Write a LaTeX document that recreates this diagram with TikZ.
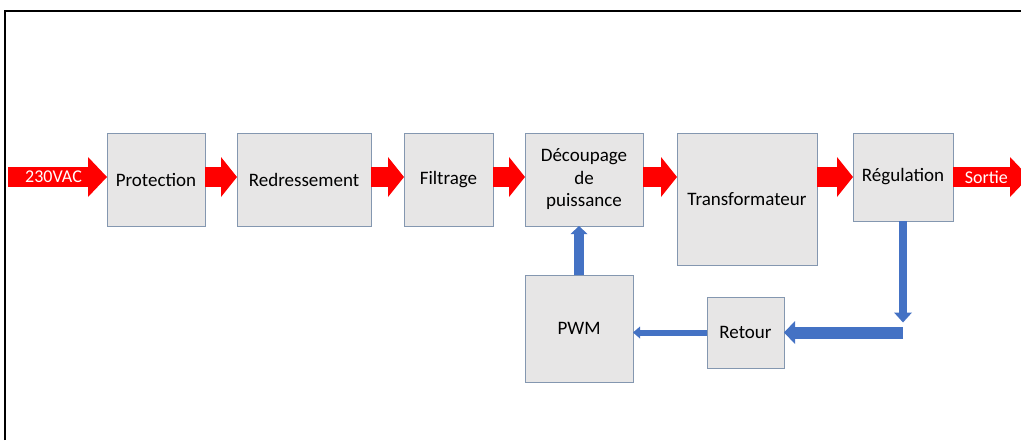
\documentclass[tikz,border=0pt]{standalone}
\usepackage{fontspec}
\setmainfont{Carlito}
\usetikzlibrary{positioning, arrows.meta, calc}
\definecolor{boxfill}{HTML}{E7E6E6}
\definecolor{boxline}{HTML}{8497B0}
\definecolor{fbblue}{HTML}{4472C4}
\tikzset{
    block/.style={ % Grey blocks of the power chain
        draw=boxline,
        fill=boxfill,
        line width=0.8pt,
        inner sep=0pt,
        outer sep=0pt,
        align=center,
        font=\fontsize{19}{22.5}\selectfont
    },
    redarr/.style={ % Thick red power arrows
        draw=red,
        line width=20pt,
        -{Triangle[length=#1,width=40pt,line width=0pt]}
    },
    redarr/.default=16pt,
    bluearr/.style args={#1/#2/#3}{ % Feedback arrows: shaft/head width/head length
        draw=fbblue,
        line width=#1,
        -{Triangle[length=#3,width=#2,line width=0pt]}
    },
    arrtext/.style={
        text=white,
        font=\fontsize{18}{22}\selectfont
    }
}

\begin{document}
\begin{tikzpicture}[x=1pt, y=-1pt]
            \useasboundingbox (0,0) rectangle (1021,440);
            \draw[line width=1.6pt] (5,440) -- (5,11) -- (1021,11);
            % power chain
            \node[block, anchor=north west, minimum width=98pt, minimum height=93pt]   (prot)  at (107,133)  {Protection};
            \node[block, right=32pt of prot.north east, anchor=north west,
                  minimum width=134pt, minimum height=93pt]                           (redr)  {Redressement};
            \node[block, right=33pt of redr.north east, anchor=north west,
                  minimum width=89pt, minimum height=93pt]                            (filt)  {Filtrage};
            \node[block, right=32pt of filt.north east, anchor=north west,
                  minimum width=118pt, minimum height=93pt]                           (deco)  {Découpage\\de\\puissance};
            \node[block, right=34pt of deco.north east, anchor=north west,
                  minimum width=140pt, minimum height=132pt]                          (trans) {Transformateur};
            \node[block, right=36pt of trans.north east, anchor=north west,
                  minimum width=100pt, minimum height=88pt]                           (regl)  {Régulation};
            % feedback
            \node[block, below=49pt of deco.south west, anchor=north west,
                  minimum width=108pt, minimum height=107pt]                          (pwm)   {PWM};
            \node[block, right=74pt of pwm.east, anchor=west, yshift=-4pt,
                  minimum width=77pt, minimum height=71pt]                            (ret)   {Retour};
            \coordinate (in)  at (8,177);
            \coordinate (out) at (1029,177);
            \coordinate (fbc) at (regl.south |- ret.east);
            \draw   (in)                  edge[redarr=19pt]   node[arrtext, pos=0.46]{230VAC}  (prot.west |- regl.west)
                    (prot.east |- regl.west)  edge[redarr]    (redr.west |- regl.west)
                    (redr.east |- regl.west)  edge[redarr]    (filt.west |- regl.west)
                    (filt.east |- regl.west)  edge[redarr]    (deco.west |- regl.west)
                    (deco.east |- regl.west)  edge[redarr]    (trans.west |- regl.west)
                    (trans.east |- regl.west) edge[redarr]    (regl.west)
                    (regl.east)           edge[redarr=19pt]   node[arrtext, pos=0.44]{Sortie}  (out)
            ;
            \draw   (regl.south)          edge[bluearr=8pt/18pt/10pt]   ([yshift=10pt]fbc)
                    (fbc)                 edge[bluearr=12pt/23pt/11pt]  (ret.east)
                    (ret.west)            edge[bluearr=6pt/12pt/7pt]    (pwm.east |- ret.west)
                    (pwm.north)           edge[bluearr=10pt/17pt/8pt]   (pwm.north |- deco.south)
            ;
        \end{tikzpicture}
\end{document}
